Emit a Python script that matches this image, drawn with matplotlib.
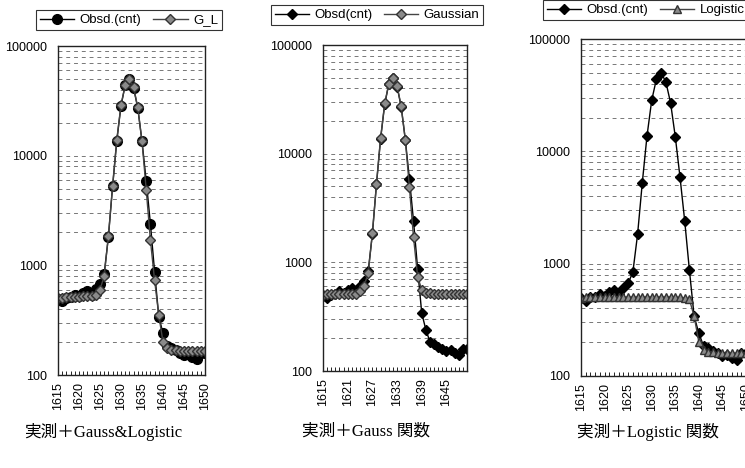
import matplotlib
matplotlib.use("Agg")
import matplotlib.pyplot as plt
from matplotlib.ticker import LogLocator, NullFormatter, FixedLocator

plt.rcParams['font.family'] = ['Liberation Sans', 'DejaVu Sans']
plt.rcParams['axes.unicode_minus'] = False

# ---- data ----
channels = list(range(1615, 1651))
obsd = [490, 470, 500, 510, 540, 520, 560, 580, 540, 610, 670, 840,
        1820, 5250, 13700, 28500, 44000, 50000, 41500, 27000, 13500, 5900,
        2400, 870, 340, 240, 185, 178, 168, 160, 152, 155, 145, 140, 160, 160]
gl_fit = [500, 505, 510, 510, 515, 515, 520, 520, 525, 540, 600, 800,
          1850, 5300, 14000, 29000, 44000, 50000, 42000, 27500, 13500, 4900,
          1700, 730, 350, 200, 175, 170, 168, 166, 165, 165, 165, 165, 165, 165]
gauss_fit = [505, 508, 510, 510, 512, 512, 512, 512, 515, 540, 610, 800,
             1850, 5300, 14000, 29000, 44000, 50000, 42000, 27500, 13500, 4900,
             1700, 740, 560, 525, 518, 515, 515, 515, 515, 515, 515, 515, 515, 515]
logistic_fit = [495, 500, 505, 505, 505, 505, 505, 505, 505, 505, 505, 505,
                505, 505, 505, 505, 505, 505, 505, 505, 505, 500,
                495, 480, 340, 200, 172, 165, 162, 160, 160, 160, 160, 160, 160, 160]

ytick_vals = [100, 1000, 10000, 100000]
captions = ["実測＋Gauss&Logistic", "実測＋Gauss 関数", "実測＋Logistic 関数"]

W, H = 745, 468
fig = plt.figure(figsize=(W / 100, H / 100), dpi=100)


def px_axes(left, right, top, bottom):
    return fig.add_axes([left / W, 1 - bottom / H, (right - left) / W, (bottom - top) / H])


def style_axes(ax, xstep):
    ax.set_yscale('log')
    ax.set_ylim(100, 100000)
    ax.set_xlim(channels[0], channels[-1])
    ax.yaxis.set_major_locator(FixedLocator(ytick_vals))
    ax.set_yticklabels([str(v) for v in ytick_vals], fontsize=9)
    ax.yaxis.set_minor_locator(LogLocator(base=10, subs=range(2, 10)))
    ax.yaxis.set_minor_formatter(NullFormatter())
    ax.grid(True, which='both', axis='y', color='#777777', linestyle=(0, (4, 4)), linewidth=0.7)
    ax.set_axisbelow(True)
    ax.set_xticks(channels[::xstep])
    ax.set_xticklabels([str(c) for c in channels[::xstep]], rotation=90, fontsize=9)
    ax.set_xticks(channels, minor=True)
    ax.tick_params(axis='x', which='both', direction='in', length=3, width=0.6, pad=5)
    ax.tick_params(axis='y', which='both', length=0, pad=8)
    for s in ax.spines.values():
        s.set_color('#222222')
        s.set_linewidth(1.0)


grey = '#8a8a8a'
edge = '#333333'

# Panel 1: observed + Gauss & Logistic
ax1 = px_axes(58, 205, 46, 375)
l1, = ax1.plot(channels, obsd, color='black', lw=1.0, marker='o', ms=7,
               mfc='black', mec='black', label='Obsd.(cnt)')
l2, = ax1.plot(channels, gl_fit, color='#444444', lw=1.0, marker='D', ms=5,
               mfc=grey, mec=edge, label='G_L')
style_axes(ax1, 5)

# Panel 2: observed + Gaussian
ax2 = px_axes(323, 467, 45, 371)
m1, = ax2.plot(channels, obsd, color='black', lw=1.0, marker='D', ms=5.5,
               mfc='black', mec='black', label='Obsd(cnt)')
m2, = ax2.plot(channels, gauss_fit, color='#444444', lw=1.0, marker='D', ms=5,
               mfc=grey, mec=edge, label='Gaussian')
style_axes(ax2, 6)

# Panel 3: observed + Logistic (cut at right edge in original)
ax3 = px_axes(581, 746, 39, 376)
n1, = ax3.plot(channels, obsd, color='black', lw=1.0, marker='D', ms=5.5,
               mfc='black', mec='black', label='Obsd.(cnt)')
n2, = ax3.plot(channels, logistic_fit, color='#444444', lw=1.0, marker='^', ms=6,
               mfc=grey, mec=edge, label='Logistic')
style_axes(ax3, 5)

leg_kw = dict(ncol=2, fontsize=9.5, frameon=True, fancybox=False, edgecolor='black',
              handlelength=2.6, handletextpad=0.4, columnspacing=0.9,
              borderpad=0.3, borderaxespad=0)
for handles, loc, anchor in [((l1, l2), 'center', (129, 20)),
                             ((m1, m2), 'center', (377, 15)),
                             ((n1, n2), 'center left', (543, 10))]:
    lg = fig.legend(handles=list(handles), loc=loc,
                    bbox_to_anchor=(anchor[0] / W, 1 - anchor[1] / H), **leg_kw)
    lg.get_frame().set_linewidth(0.8)

cap_font = ['Liberation Serif', 'Noto Sans CJK JP']
for text, cx in zip(captions, [103, 366, 648]):
    fig.text(cx / W, 1 - 432 / H, text, ha='center', va='center',
             fontsize=12, family=cap_font)

fig.savefig('out.png', dpi=100)
